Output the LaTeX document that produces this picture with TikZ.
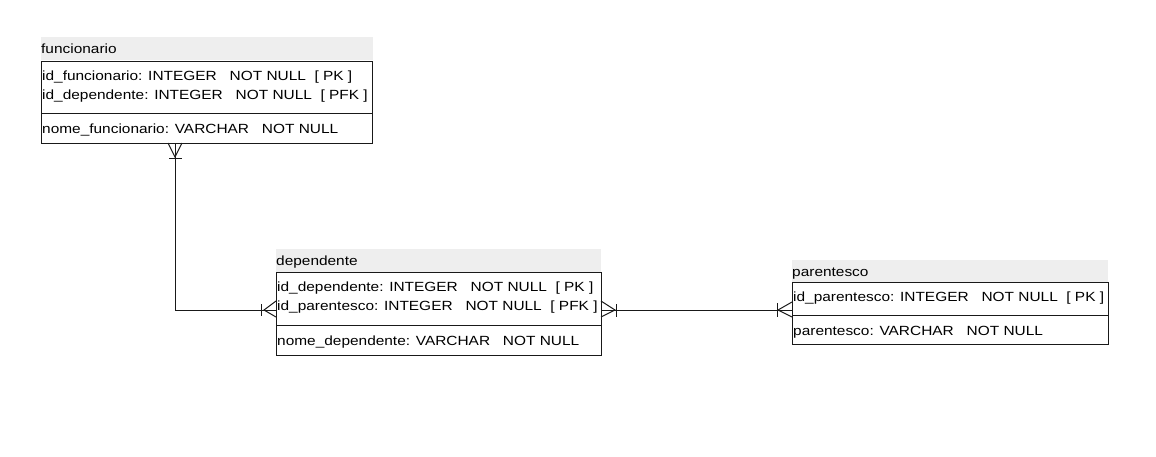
\documentclass[tikz,border=0pt]{standalone}
\usepackage{fontspec}
\setmainfont[FakeStretch=1.16]{Liberation Sans}
\begin{document}
\begin{tikzpicture}[x=1pt,y=-1pt,
    tabletitle/.style={anchor=north west,fill=gray!13,inner sep=0pt,minimum height=23pt},
    tablebox/.style={anchor=north west,draw=black!90,line width=1pt,inner sep=0pt},
    rowtext/.style={anchor=base west,inner sep=0pt,font=\fontsize{13.3}{15}\selectfont},
    link/.style={draw=black!90,line width=1pt}]
    \useasboundingbox (0,0) rectangle (1156,456);

    \node[tabletitle,minimum width=332pt] (funcionario-title) at (41,37) {};
    \node[rowtext] (funcionario-name) at (41,53) {funcionario};
    \node[tablebox,minimum width=331pt,minimum height=82pt] (funcionario) at (41,61) {};
    \draw[link] (funcionario.west |- 0,113) -- (funcionario.east |- 0,113);
    \node[rowtext] (funcionario-r1) at (42,80) {id\_funcionario: INTEGER\ \ \ NOT NULL\ \ [ PK ]};
    \node[rowtext] (funcionario-r2) at (42,99.5) {id\_dependente: INTEGER\ \ \ NOT NULL\ \ [ PFK ]};
    \node[rowtext] (funcionario-r3) at (42,133) {nome\_funcionario: VARCHAR\ \ \ NOT NULL};

    \node[tabletitle,minimum width=325pt] (dependente-title) at (276,249) {};
    \node[rowtext] (dependente-name) at (276,265) {dependente};
    \node[tablebox,minimum width=325pt,minimum height=83pt] (dependente) at (276,272) {};
    \draw[link] (dependente.west |- 0,325) -- (dependente.east |- 0,325);
    \node[rowtext] (dependente-r1) at (277,291) {id\_dependente: INTEGER\ \ \ NOT NULL\ \ [ PK ]};
    \node[rowtext] (dependente-r2) at (277,310.5) {id\_parentesco: INTEGER\ \ \ NOT NULL\ \ [ PFK ]};
    \node[rowtext] (dependente-r3) at (277,345) {nome\_dependente: VARCHAR\ \ \ NOT NULL};

    \node[tabletitle,minimum width=316pt,minimum height=22pt] (parentesco-title) at (792,260) {};
    \node[rowtext] (parentesco-name) at (792,276) {parentesco};
    \node[tablebox,minimum width=316pt,minimum height=62pt] (parentesco) at (792,282) {};
    \draw[link] (parentesco.west |- 0,315) -- (parentesco.east |- 0,315);
    \node[rowtext] (parentesco-r1) at (793,301) {id\_parentesco: INTEGER\ \ \ NOT NULL\ \ [ PK ]};
    \node[rowtext] (parentesco-r2) at (793,335) {parentesco: VARCHAR\ \ \ NOT NULL};

    \draw[link] (funcionario.south -| 175,0) |- (dependente.west |- 0,310);
    \draw[link] (dependente.east |- 0,310) -- (parentesco.west |- 0,310);

    \draw[link] (168,143) -- (175,157) -- (182,143);
    \draw[link] (169,158) -- (182,158);
    \draw[link] (276,301) -- (264,310) -- (276,317);
    \draw[link] (261,304) -- (261,316);
    \draw[link] (601,301) -- (615,310) -- (601,317);
    \draw[link] (616,304) -- (616,317);
    \draw[link] (792,302) -- (778,310) -- (792,317);
    \draw[link] (777,303) -- (777,317);
\end{tikzpicture}
\end{document}
